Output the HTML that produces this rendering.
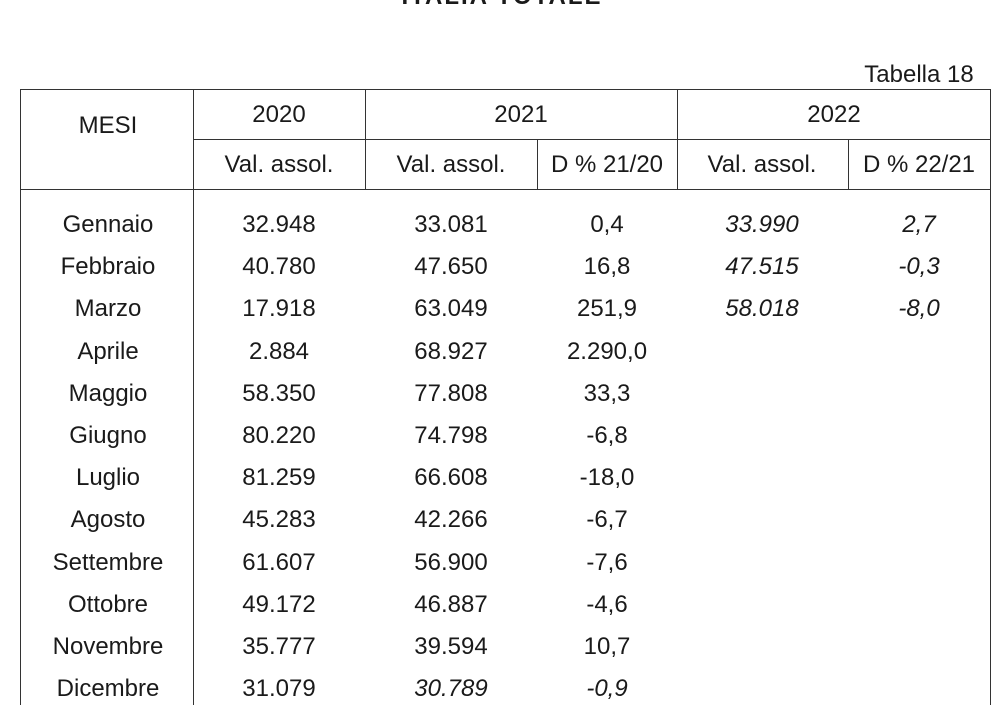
<!DOCTYPE html>
<html><head><meta charset="utf-8"><style>
body{margin:0;width:1000px;height:705px;background:#fff;position:relative;overflow:hidden;font-family:"Liberation Sans",Arial,sans-serif;color:#1a1a1a;}
.t{position:absolute;font-size:24px;line-height:28px;white-space:nowrap;transform:translateX(-50%);}
.i{font-style:italic;}
.l{position:absolute;background:#333;}
</style></head><body>
<div class="t" style="left:502px;top:-17px;font-weight:bold;letter-spacing:2px;">ITALIA TOTALE</div>
<div class="t" style="left:919px;top:61px;">Tabella 18</div>
<div class="l" style="left:20px;top:89px;width:971px;height:1px"></div>
<div class="l" style="left:193px;top:139px;width:798px;height:1px"></div>
<div class="l" style="left:20px;top:189px;width:971px;height:1px"></div>
<div class="l" style="left:20px;top:89px;width:1px;height:616px"></div>
<div class="l" style="left:193px;top:89px;width:1px;height:616px"></div>
<div class="l" style="left:990px;top:89px;width:1px;height:616px"></div>
<div class="l" style="left:365px;top:89px;width:1px;height:101px"></div>
<div class="l" style="left:677px;top:89px;width:1px;height:101px"></div>
<div class="l" style="left:537px;top:139px;width:1px;height:51px"></div>
<div class="l" style="left:848px;top:139px;width:1px;height:51px"></div>
<div class="t" style="left:108px;top:112px;">MESI</div>
<div class="t" style="left:279px;top:101px;">2020</div>
<div class="t" style="left:521px;top:101px;">2021</div>
<div class="t" style="left:834px;top:101px;">2022</div>
<div class="t" style="left:279px;top:151px;">Val. assol.</div>
<div class="t" style="left:451px;top:151px;">Val. assol.</div>
<div class="t" style="left:607px;top:151px;">D % 21/20</div>
<div class="t" style="left:762px;top:151px;">Val. assol.</div>
<div class="t" style="left:919px;top:151px;">D % 22/21</div>
<div id="rows"></div>
<script>
var d=[["Gennaio","32.948","33.081","0,4","33.990","2,7"],["Febbraio","40.780","47.650","16,8","47.515","-0,3"],["Marzo","17.918","63.049","251,9","58.018","-8,0"],["Aprile","2.884","68.927","2.290,0"],["Maggio","58.350","77.808","33,3"],["Giugno","80.220","74.798","-6,8"],["Luglio","81.259","66.608","-18,0"],["Agosto","45.283","42.266","-6,7"],["Settembre","61.607","56.900","-7,6"],["Ottobre","49.172","46.887","-4,6"],["Novembre","35.777","39.594","10,7"],["Dicembre","31.079","30.789","-0,9"]];
var x=[108,279,451,607,762,919],h="";
d.forEach(function(r,k){var y=211+k*42.2;r.forEach(function(v,j){var it=(j>=4)||(k==11&&j>=2);h+='<div class="t'+(it?' i':'')+'" style="left:'+x[j]+'px;top:'+y+'px">'+v+'</div>';});});
document.getElementById("rows").innerHTML=h;
</script>
</body></html>
